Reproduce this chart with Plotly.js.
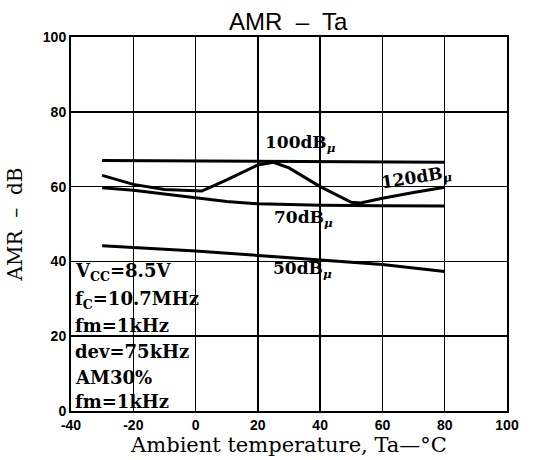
<!DOCTYPE html>
<html>
<head>
<meta charset="utf-8">
<script src="https://cdn.plot.ly/plotly-3.0.1.min.js"></script>
<style>html,body{margin:0;padding:0;background:#fff;}#chart{width:552px;height:460px;}</style>
</head>
<body>
<div id="chart"></div>
<script>
// Ambient temperature (°C)
const temp100 = [-30, 0, 20, 40, 60, 80];
const amr100  = [67, 66.9, 66.8, 66.7, 66.6, 66.5];

const temp120 = [-30, -20, -10, 2, 10, 20, 25, 30, 40, 50, 53, 60, 70, 80];
const amr120  = [63, 60.6, 59.2, 58.8, 61.8, 65.8, 66.5, 65, 60, 55.8, 55.6, 56.9, 58.4, 59.8];

const temp70 = [-30, -20, -10, 0, 10, 20, 40, 60, 80];
const amr70  = [59.7, 59, 58, 57, 56, 55.4, 55, 54.9, 54.8];

const temp50 = [-30, 0, 20, 40, 60, 80];
const amr50  = [44.2, 42.8, 41.6, 40.4, 39.2, 37.3];

const curveLabels = ["100dB<sub><i>μ</i></sub>", "120dB<sub><i>μ</i></sub>", "70dB<sub><i>μ</i></sub>", "50dB<sub><i>μ</i></sub>"];
const conditions = ["V<sub>CC</sub>=8.5V", "f<sub>C</sub>=10.7MHz", "fm=1kHz", "dev=75kHz", "AM30%", "fm=1kHz"];
const xTicks = [-40, -20, 0, 20, 40, 60, 80, 100];
const yTicks = [0, 20, 40, 60, 80, 100];

const lineStyle = {color: '#000', width: 3};
const traces = [
  {x: temp100, y: amr100, mode: 'lines', line: lineStyle, hoverinfo: 'skip'},
  {x: temp120, y: amr120, mode: 'lines', line: lineStyle, hoverinfo: 'skip'},
  {x: temp70, y: amr70, mode: 'lines', line: lineStyle, hoverinfo: 'skip'},
  {x: temp50, y: amr50, mode: 'lines', line: lineStyle, hoverinfo: 'skip'}
];

const serif = 'DejaVu Serif, Liberation Serif, serif';
const annFont = {family: serif, size: 17, color: '#000', weight: 'bold'};
const labelPos = [[33.8, 71.4, 0], [70.8, 62.2, -9], [34.5, 51.4, 0], [34.2, 37.8, 0]];
const annotations = curveLabels.map((t, i) => ({
  x: labelPos[i][0], y: labelPos[i][1], xref: 'x', yref: 'y', text: t,
  showarrow: false, font: annFont, textangle: labelPos[i][2], borderpad: 0
}));
const condY = [37.2, 29.8, 22.8, 15.8, 8.9, 2.5];
conditions.forEach((t, i) => annotations.push({
  x: -39.2, y: condY[i], xref: 'x', yref: 'y', text: t, xanchor: 'left', yanchor: 'middle',
  showarrow: false, font: {family: serif, size: 18, color: '#000', weight: 'bold'}
}));

const axisCommon = {
  showgrid: true, gridcolor: '#000', gridwidth: 1.5,
  showline: true, linecolor: '#000', linewidth: 2, mirror: true,
  zeroline: false, ticks: '',
  tickfont: {family: 'Liberation Sans, Arial, sans-serif', size: 14, color: '#000', weight: 'bold'}
};

const layout = {
  width: 552, height: 460,
  margin: {l: 71, r: 45, t: 37, b: 49},
  paper_bgcolor: '#fff', plot_bgcolor: '#fff',
  showlegend: false,
  title: {text: 'AMR  –  Ta', x: 0.522, xanchor: 'center', y: 0.952, yanchor: 'middle',
          font: {family: 'Liberation Sans, Arial, sans-serif', size: 24, color: '#000'}},
  xaxis: Object.assign({}, axisCommon, {
    range: [-40, 100], tickvals: xTicks, ticktext: xTicks.map(String),
    title: {text: 'Ambient temperature, Ta—°C', standoff: 1,
            font: {family: serif, size: 21, color: '#000'}}
  }),
  yaxis: Object.assign({}, axisCommon, {
    range: [0, 100], tickvals: yTicks, ticktext: yTicks.map(String),
    title: {text: 'AMR  –  dB', standoff: 15,
            font: {family: serif, size: 20, color: '#000'}}
  }),
  annotations: annotations
};

Plotly.newPlot('chart', traces, layout, {staticPlot: true, displayModeBar: false});
</script>
</body>
</html>
